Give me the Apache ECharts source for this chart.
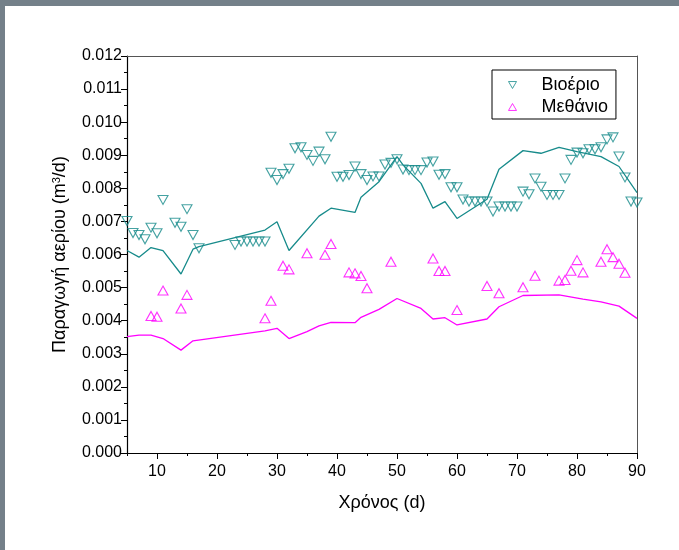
<!DOCTYPE html>
<html>
<head>
<meta charset="utf-8">
<script src="https://cdn.jsdelivr.net/npm/echarts@6/dist/echarts.min.js"></script>
<style>
  html, body { margin: 0; padding: 0; background: #fff; }
  #chart { width: 679px; height: 550px; }
</style>
</head>
<body>
<div id="chart"></div>
<script>
// Measured biogas production (m3/d) by day
const biogasDays = [5, 6, 7, 8, 9, 10, 11, 13, 14, 15, 16, 17, 23, 24, 25, 26, 27, 28,
  29, 30, 31, 32, 33, 34, 35, 36, 37, 38, 39, 40, 41, 42, 43, 44, 45, 46, 47, 48, 49, 50,
  51, 52, 53, 54, 55, 56, 57, 58, 59, 60, 61, 62, 63, 64, 65, 66, 67, 68, 69, 70,
  71, 72, 73, 74, 75, 76, 77, 78, 79, 80, 81, 82, 83, 84, 85, 86, 87, 88, 89, 90];
const biogasMeasured = [0.00701, 0.00665, 0.00659, 0.00646, 0.00681, 0.00664, 0.00765, 0.00696, 0.00684, 0.00737, 0.00659, 0.00619, 0.00629, 0.00639, 0.00639, 0.00639, 0.00639, 0.00639,
  0.00847, 0.00825, 0.00843, 0.00859, 0.00921, 0.00924, 0.00901, 0.00883, 0.00911, 0.00888, 0.00956, 0.00835, 0.00835, 0.00840, 0.00866, 0.00843, 0.00825, 0.00836, 0.00836, 0.00872, 0.00877, 0.00888,
  0.00857, 0.00855, 0.00855, 0.00855, 0.00878, 0.00881, 0.00841, 0.00843, 0.00803, 0.00803, 0.00766, 0.00760, 0.00760, 0.00760, 0.00760, 0.00730, 0.00745, 0.00745, 0.00745, 0.00745,
  0.00790, 0.00782, 0.00830, 0.00805, 0.00780, 0.00780, 0.00780, 0.00830, 0.00886, 0.00908, 0.00906, 0.00918, 0.00918, 0.00924, 0.00948, 0.00954, 0.00896, 0.00833, 0.00760, 0.00757];

// Measured methane production (m3/d) by day
const methaneDays = [9, 10, 11, 14, 15, 28, 29, 31, 32, 35, 38, 39, 42, 43, 44, 45, 49,
  56, 57, 58, 60, 65, 67, 71, 73, 77, 78, 79, 80, 81, 84, 85, 86, 87, 88];
const methaneMeasured = [0.00414, 0.00412, 0.00491, 0.00437, 0.00478, 0.00407, 0.00460, 0.00566, 0.00555, 0.00604, 0.00599, 0.00632, 0.00546, 0.00543, 0.00535, 0.00498, 0.00578,
  0.00588, 0.00550, 0.00550, 0.00432, 0.00505, 0.00483, 0.00501, 0.00536, 0.00521, 0.00523, 0.00551, 0.00583, 0.00546, 0.00578, 0.00616, 0.00592, 0.00572, 0.00545];

// Model curves
const biogasModelDays = [5, 7, 9, 11, 14, 16, 17, 28, 30, 32, 37, 39, 43, 44, 47, 50, 51, 54, 56, 58, 60, 65, 67, 71, 74, 77, 80, 84, 87, 90];
const biogasModel = [0.00612, 0.00592, 0.00621, 0.00612, 0.00541, 0.00616, 0.00624, 0.00674, 0.00699, 0.00612, 0.00716, 0.00740, 0.00727, 0.00773, 0.00820, 0.00896, 0.00871, 0.00815, 0.00740, 0.00760, 0.00709, 0.00767, 0.00858, 0.00914, 0.00906, 0.00924, 0.00911, 0.00896, 0.00866, 0.00787];
const methaneModelDays = [5, 7, 9, 11, 14, 16, 28, 30, 32, 35, 37, 39, 43, 44, 47, 50, 54, 56, 58, 60, 65, 67, 71, 77, 81, 84, 87, 90];
const methaneModel = [0.00352, 0.00356, 0.00356, 0.00346, 0.00311, 0.00339, 0.00369, 0.00377, 0.00346, 0.00367, 0.00384, 0.00395, 0.00394, 0.00410, 0.00434, 0.00467, 0.00437, 0.00405, 0.00409, 0.00387, 0.00405, 0.00442, 0.00476, 0.00478, 0.00465, 0.00457, 0.00444, 0.00407];

// Axis tick values
const xMajorTicks = [10, 20, 30, 40, 50, 60, 70, 80, 90];
const xMinorTicks = [5, 15, 25, 35, 45, 55, 65, 75, 85];

const zip = (xs, ys) => xs.map((x, i) => [x, ys[i]]);

const TEAL = '#178b8b';
const MAGENTA = '#ff00ff';
const FONT = 'Liberation Sans, Arial, sans-serif';
const DOWN_TRI = 'path://M0,0L10,0L5,8.66Z';
const UP_TRI = 'path://M5,0L10,8.66L0,8.66Z';

const chart = echarts.init(document.getElementById('chart'));
chart.setOption({
  animation: false,
  backgroundColor: '#fff',
  graphic: [
    { type: 'rect', silent: true, z: 100, shape: { x: 0, y: 0, width: 679, height: 6 }, style: { fill: '#748089' } },
    { type: 'rect', silent: true, z: 100, shape: { x: 0, y: 0, width: 5, height: 550 }, style: { fill: '#748089' } }
  ],
  grid: { left: 127, right: 42, top: 56, bottom: 97 },
  legend: {
    orient: 'vertical',
    left: 492,
    top: 70,
    data: ['Βιοέριο', 'Μεθάνιο'],
    borderColor: '#000',
    borderWidth: 1,
    padding: [6, 8, 3, 16],
    itemWidth: 8,
    itemHeight: 7,
    itemGap: 4,
    itemStyle: { borderWidth: 1 },
    formatter: name => '{gap|}' + name,
    textStyle: {
      fontSize: 18, fontFamily: FONT, color: '#000',
      rich: { gap: { width: 20 } }
    }
  },
  xAxis: [
    {
      type: 'value', min: 5, max: 90, position: 'bottom',
      name: 'Χρόνος (d)', nameLocation: 'middle', nameGap: 41,
      nameTextStyle: { fontSize: 18, fontFamily: FONT, color: '#000' },
      axisLine: { show: true, onZero: false, lineStyle: { color: '#000', width: 1.2 } },
      axisTick: { show: true, length: 6, customValues: xMajorTicks, lineStyle: { color: '#000' } },
      axisLabel: { customValues: xMajorTicks, margin: 11, fontSize: 16, fontFamily: FONT, color: '#000' },
      splitLine: { show: false }
    },
    {
      type: 'value', min: 5, max: 90, position: 'bottom',
      axisLine: { show: false },
      axisTick: { show: true, length: 3, customValues: xMinorTicks, lineStyle: { color: '#000' } },
      axisLabel: { show: false },
      splitLine: { show: false }
    },
    {
      type: 'value', min: 5, max: 90, position: 'top',
      axisLine: { show: true, onZero: false, lineStyle: { color: '#555', width: 1 } },
      axisTick: { show: false },
      axisLabel: { show: false },
      splitLine: { show: false }
    }
  ],
  yAxis: [
    {
      type: 'value', min: 0, max: 0.012, interval: 0.001, position: 'left',
      name: 'Παραγωγή αερίου (m{sup|3}/d)', nameLocation: 'middle', nameGap: 58,
      nameTextStyle: {
        fontSize: 18, fontFamily: FONT, color: '#000',
        rich: { sup: { fontSize: 11, fontFamily: FONT, color: '#000', verticalAlign: 'top', padding: [0, 0, 4, 0] } }
      },
      axisLine: { show: true, onZero: false, lineStyle: { color: '#000', width: 1.2 } },
      axisTick: { show: true, length: 6, lineStyle: { color: '#000' } },
      minorTick: { show: true, splitNumber: 2, length: 3, lineStyle: { color: '#000' } },
      axisLabel: { margin: 5, fontSize: 16, fontFamily: FONT, color: '#000', formatter: v => v.toFixed(3) },
      splitLine: { show: false }
    },
    {
      type: 'value', min: 0, max: 0.012, position: 'right',
      axisLine: { show: true, onZero: false, lineStyle: { color: '#555', width: 1 } },
      axisTick: { show: false },
      axisLabel: { show: false },
      splitLine: { show: false }
    }
  ],
  series: [
    {
      name: 'biogas-model', type: 'line', xAxisIndex: 0, yAxisIndex: 0,
      data: zip(biogasModelDays, biogasModel), showSymbol: false,
      lineStyle: { color: TEAL, width: 1.3 }, z: 2
    },
    {
      name: 'methane-model', type: 'line', xAxisIndex: 0, yAxisIndex: 0,
      data: zip(methaneModelDays, methaneModel), showSymbol: false,
      lineStyle: { color: MAGENTA, width: 1.3 }, z: 2
    },
    {
      name: 'Βιοέριο', type: 'scatter', xAxisIndex: 0, yAxisIndex: 0,
      data: zip(biogasDays, biogasMeasured),
      symbol: DOWN_TRI, symbolSize: [10, 9],
      itemStyle: { color: 'rgba(0,0,0,0)', borderColor: TEAL, borderWidth: 1.1 }, z: 3
    },
    {
      name: 'Μεθάνιο', type: 'scatter', xAxisIndex: 0, yAxisIndex: 0,
      data: zip(methaneDays, methaneMeasured),
      symbol: UP_TRI, symbolSize: [10, 9],
      itemStyle: { color: 'rgba(0,0,0,0)', borderColor: MAGENTA, borderWidth: 1.1 }, z: 3
    }
  ]
});
</script>
</body>
</html>
